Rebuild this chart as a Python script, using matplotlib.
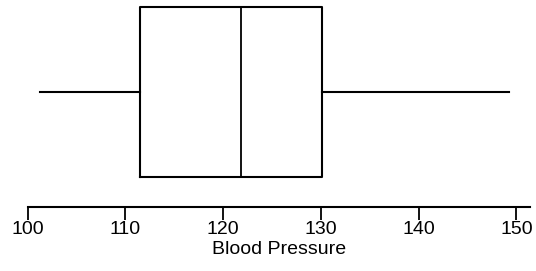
import matplotlib
matplotlib.use("Agg")
import matplotlib.pyplot as plt

# five-number summary
low_whisker = 101.3
q1 = 111.5
median = 121.8
q3 = 130.1
high_whisker = 149.3

tick_values = [100, 110, 120, 130, 140, 150]
x_label = "Blood Pressure"

plt.rcParams["font.family"] = ["Liberation Sans", "DejaVu Sans"]

fig = plt.figure(figsize=(5.36, 2.71), dpi=100)
ax = fig.add_axes([27.7 / 536, 1 - 207 / 271, (530 - 27.7) / 536, 207 / 271])

stats = [{
    "whislo": low_whisker,
    "q1": q1,
    "med": median,
    "q3": q3,
    "whishi": high_whisker,
    "fliers": [],
}]
line = dict(color="black", linewidth=1.5)
ax.bxp(
    stats,
    positions=[0.555],
    widths=0.82,
    orientation="horizontal",
    showcaps=False,
    showfliers=False,
    boxprops=line,
    whiskerprops=line,
    medianprops=dict(color="black", linewidth=1.3),
)

ax.set_xlim(100, 151.4)
ax.set_ylim(0, 1)
ax.set_xticks(tick_values)
ax.set_xticklabels([str(v) for v in tick_values], fontsize=14)
ax.set_yticks([])
ax.tick_params(axis="x", direction="out", length=9, width=1.3, pad=1, color="black")
for side in ["left", "top", "right"]:
    ax.spines[side].set_visible(False)
ax.spines["bottom"].set_linewidth(1.5)
ax.set_xlabel(x_label, fontsize=14, labelpad=2)
ax.patch.set_visible(False)

fig.savefig("out.png", dpi=100)
